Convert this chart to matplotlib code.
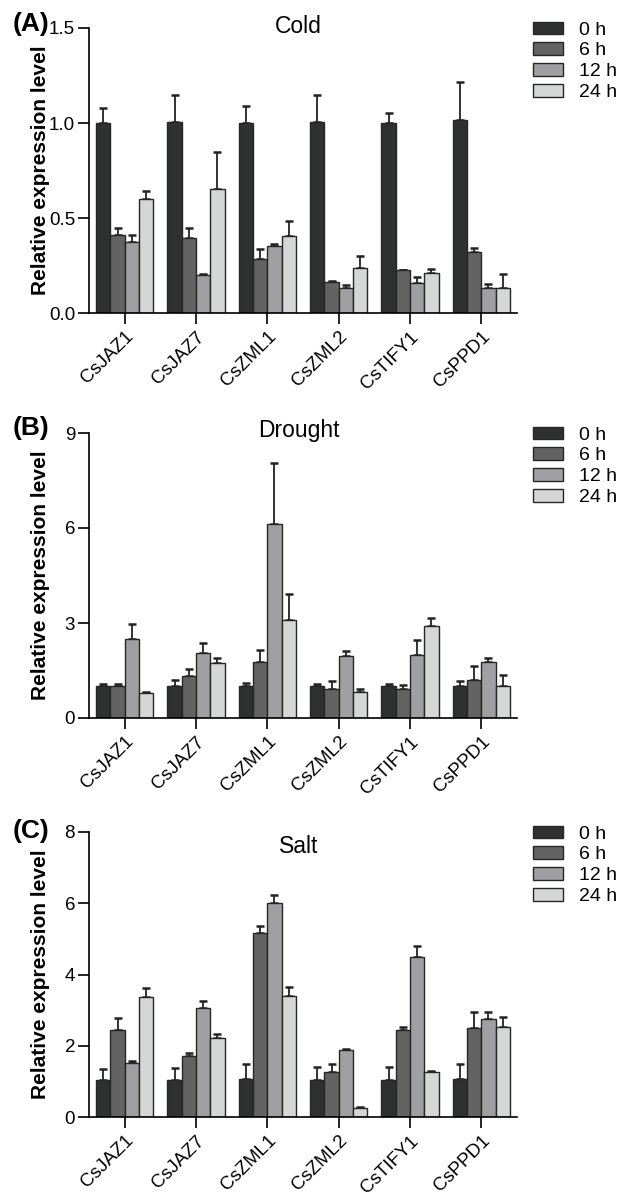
import numpy as np
import matplotlib
matplotlib.use("Agg")
import matplotlib.pyplot as plt

plt.rcParams['font.family'] = ['Liberation Sans', 'DejaVu Sans']

genes = ["CsJAZ1", "CsJAZ7", "CsZML1", "CsZML2", "CsTIFY1", "CsPPD1"]
times = ["0 h", "6 h", "12 h", "24 h"]
colors = ["#2f3130", "#636363", "#a0a0a4", "#d5d7d6"]

# values per time point, one entry per gene
cold_mean = [[1.00, 1.005, 1.00, 1.005, 1.00, 1.014],
             [0.41, 0.395, 0.284, 0.165, 0.225, 0.321],
             [0.374, 0.20, 0.351, 0.13, 0.158, 0.132],
             [0.60, 0.653, 0.405, 0.235, 0.21, 0.132]]
cold_top = [[1.08, 1.147, 1.09, 1.147, 1.054, 1.218],
            [0.45, 0.447, 0.339, 0.17, 0.228, 0.342],
            [0.41, 0.203, 0.363, 0.147, 0.188, 0.153],
            [0.64, 0.847, 0.482, 0.302, 0.23, 0.204]]

drought_mean = [[1.0, 1.01, 1.0, 1.0, 1.0, 1.0],
                [1.0, 1.33, 1.76, 0.92, 0.92, 1.2],
                [2.5, 2.05, 6.13, 1.95, 1.98, 1.77],
                [0.79, 1.74, 3.1, 0.82, 2.89, 1.02]]
drought_top = [[1.06, 1.19, 1.1, 1.06, 1.06, 1.16],
               [1.06, 1.56, 2.15, 1.16, 1.03, 1.65],
               [2.96, 2.36, 8.04, 2.12, 2.45, 1.89],
               [0.81, 1.89, 3.91, 0.92, 3.17, 1.35]]

salt_mean = [[1.03, 1.03, 1.06, 1.04, 1.04, 1.06],
             [2.44, 1.72, 5.16, 1.26, 2.44, 2.49],
             [1.51, 3.05, 6.02, 1.88, 4.5, 2.75],
             [3.36, 2.21, 3.41, 0.24, 1.27, 2.54]]
salt_top = [[1.36, 1.37, 1.49, 1.41, 1.40, 1.48],
            [2.79, 1.81, 5.36, 1.49, 2.53, 2.94],
            [1.57, 3.26, 6.24, 1.92, 4.81, 2.95],
            [3.63, 2.33, 3.66, 0.28, 1.29, 2.80]]

panels = [("(A)", "Cold", cold_mean, cold_top, 1.5, [0.0, 0.5, 1.0, 1.5], "%.1f"),
          ("(B)", "Drought", drought_mean, drought_top, 9, [0, 3, 6, 9], "%d"),
          ("(C)", "Salt", salt_mean, salt_top, 8, [0, 2, 4, 6, 8], "%d")]

W, H = 618, 1195
fig = plt.figure(figsize=(W / 100, H / 100), dpi=100)

tops = [28, 433, 832]
title_y = [0.982, 0.987, 0.926]
label_off = [4, 5, 1]
x = np.arange(len(genes))
bw = 0.2

for k, (lab, title, means, errtop, ymax, yt, fmt) in enumerate(panels):
    top = tops[k]
    ax = fig.add_axes([89 / W, 1 - (top + 285) / H, (517 - 89) / W, 285 / H])
    for i in range(4):
        pos = x + (i - 1.5) * bw
        m = np.array(means[i])
        e = np.array(errtop[i]) - m
        ax.errorbar(pos, m, yerr=[np.zeros_like(e), e], fmt='none',
                    ecolor='#222222', elinewidth=1.3, capsize=3, capthick=1.8, zorder=1)
        ax.bar(pos, m, bw, color=colors[i], edgecolor='#262626', linewidth=1.0,
               label=times[i], zorder=2)
    ax.set_xlim(-0.5, 5.5)
    ax.set_ylim(0, ymax)
    ax.set_yticks(yt)
    ax.set_yticklabels([fmt % v for v in yt])
    ax.set_xticks(x)
    ax.set_xticklabels(genes, rotation=45, ha='right', rotation_mode='anchor')
    ax.tick_params(axis='y', direction='out', length=8, width=1.2, labelsize=13.5, pad=2)
    ax.tick_params(axis='x', direction='out', length=8, width=1.2, labelsize=13.5, pad=3)
    for s in ['top', 'right']:
        ax.spines[s].set_visible(False)
    for s in ['left', 'bottom']:
        ax.spines[s].set_linewidth(1.2)
    ax.set_ylabel("Relative expression level", fontsize=15, fontweight='bold')
    ax.yaxis.set_label_coords(-0.091, 0.5)
    ax.text(0.49, title_y[k], title, transform=ax.transAxes,
            ha='center', va='baseline', fontsize=16.5)
    fig.text(13 / W, 1 - (top - label_off[k]) / H, lab, fontsize=19, fontweight='bold',
             ha='left', va='center')
    ax.legend(loc='upper left', bbox_to_anchor=(1.02, 1.05), frameon=False,
              fontsize=14, handlelength=1.5, handleheight=0.6, labelspacing=0.2,
              handletextpad=0.85, borderaxespad=0)

fig.savefig("out.png", dpi=100)
